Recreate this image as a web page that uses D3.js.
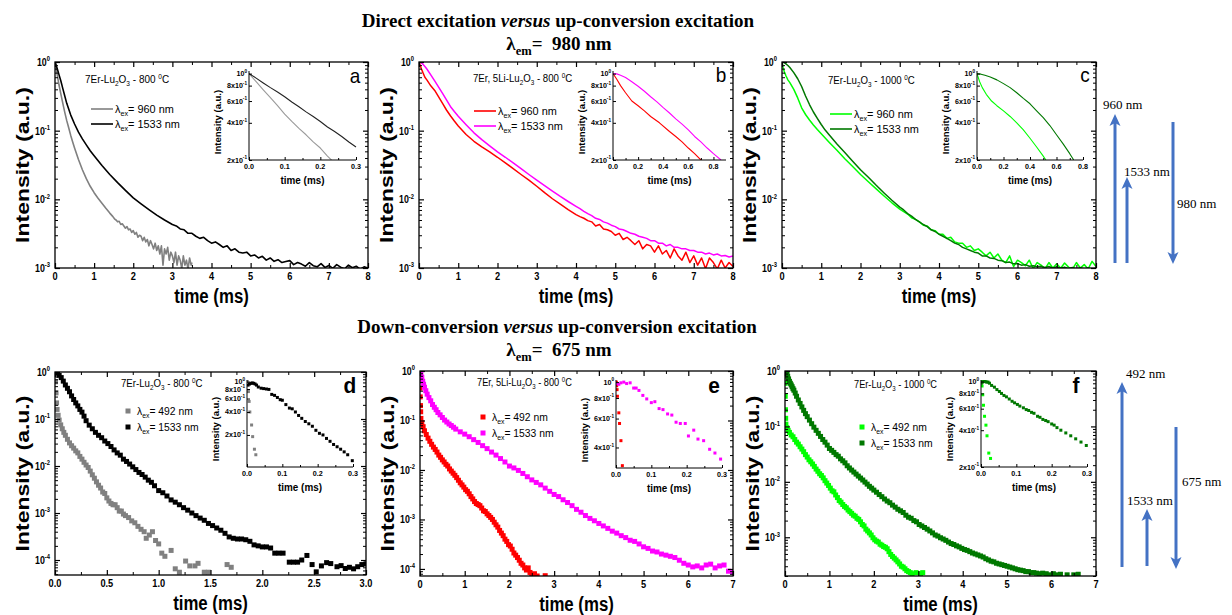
<!DOCTYPE html>
<html><head><meta charset="utf-8">
<script src="https://cdn.jsdelivr.net/npm/d3@7/dist/d3.min.js"></script>
<style>html,body{margin:0;padding:0;background:#fff}svg{display:block}</style>
</head><body>
<svg id="chart" width="1232" height="615"></svg>
<script>
// ================= TEXT =================
const titleTop = [["Direct excitation ", ""], ["versus", "i"], [" up-conversion excitation", ""]];
const titleBottom = [["Down-conversion ", ""], ["versus", "i"], [" up-conversion excitation", ""]];
const emTop = "980 nm";
const emBottom = "675 nm";
const sampleA = [["7Er-Lu", ""], ["2", "sub"], ["O", ""], ["3", "sub"], [" - 800 ", ""], ["0", "sup"], ["C", ""]];
const sampleB = [["7Er, 5Li-Lu", ""], ["2", "sub"], ["O", ""], ["3", "sub"], [" - 800 ", ""], ["0", "sup"], ["C", ""]];
const sampleC = [["7Er-Lu", ""], ["2", "sub"], ["O", ""], ["3", "sub"], [" - 1000 ", ""], ["0", "sup"], ["C", ""]];
const legendTop = ["960 nm", "1533 nm"];
const legendBottom = ["492 nm", "1533 nm"];
const panelLetters = ["a", "b", "c", "d", "e", "f"];
const arrowsTop = ["960 nm", "1533 nm", "980 nm"];
const arrowsBottom = ["492 nm", "1533 nm", "675 nm"];

// ================= TICKS =================
const xTicksTop = [0, 1, 2, 3, 4, 5, 6, 7, 8];
const xTicksD = [0, 0.5, 1.0, 1.5, 2.0, 2.5, 3.0];
const xTicksEF = [0, 1, 2, 3, 4, 5, 6, 7];
const yExpTop = [0, -1, -2, -3];
const yExpDE = [0, -1, -2, -3, -4];
const yExpF = [0, -1, -2, -3];
const inXTicks03 = [0, 0.1, 0.2, 0.3];
const inXTicks08 = [0, 0.2, 0.4, 0.6, 0.8];
const inYTicks = [1, 0.8, 0.6, 0.4, 0.2];
const inYTicksE = [1, 0.8, 0.6, 0.4];
const inYTickLabels = [["10", "0"], ["8x10", "-1"], ["6x10", "-1"], ["4x10", "-1"], ["2x10", "-1"]];

// ================= DATA (time ms, intensity a.u.) =================
// Panel a
const aGray = [[0,1],[0.03,0.8],[0.06,0.64],[0.1,0.47],[0.15,0.34],[0.2,0.25],[0.25,0.185],[0.3,0.14],[0.35,0.11],[0.4,0.086],[0.45,0.069],[0.5,0.056],[0.6,0.038],[0.7,0.027],[0.8,0.02],[0.9,0.0155],[1.0,0.0125],[1.1,0.0104],[1.2,0.0088],[1.3,0.0074],[1.4,0.0063],[1.48,0.0056],[1.52,0.0052],[1.56,0.005],[1.6,0.0047],[1.64,0.0048],[1.68,0.0043],[1.72,0.0044],[1.76,0.0041],[1.8,0.0038],[1.84,0.004],[1.88,0.0036],[1.92,0.0037],[1.96,0.0033],[2.0,0.0035],[2.04,0.0031],[2.08,0.0033],[2.12,0.0028],[2.16,0.003],[2.2,0.0029],[2.24,0.0025],[2.28,0.0028],[2.32,0.0024],[2.36,0.0026],[2.4,0.0021],[2.44,0.0025],[2.48,0.0022],[2.52,0.0019],[2.56,0.0023],[2.6,0.0018],[2.64,0.0021],[2.68,0.0016],[2.72,0.0021],[2.76,0.0011],[2.8,0.0019],[2.84,0.0016],[2.88,0.002],[2.92,0.0013],[2.96,0.0017],[3.0,0.0015],[3.04,0.0012],[3.08,0.0017],[3.12,0.0011],[3.16,0.0015],[3.2,0.0013],[3.24,0.00098],[3.28,0.0015],[3.32,0.0011],[3.36,0.0013],[3.4,0.00096],[3.44,0.0014],[3.48,0.0011],[3.5,0.0012]];
const aBlack = [[0,1],[0.03,0.9],[0.06,0.79],[0.1,0.66],[0.15,0.53],[0.2,0.41],[0.25,0.32],[0.3,0.25],[0.4,0.17],[0.5,0.125],[0.6,0.095],[0.7,0.076],[0.8,0.062],[0.9,0.051],[1.0,0.043],[1.2,0.031],[1.4,0.023],[1.6,0.0175],[1.8,0.0135],[2.0,0.0105],[2.2,0.0086],[2.4,0.0071],[2.6,0.0059],[2.8,0.005],[3.0,0.0043],[3.1,0.0041],[3.2,0.0037],[3.3,0.0036],[3.4,0.0032],[3.5,0.0032],[3.6,0.0029],[3.7,0.0027],[3.8,0.0028],[3.9,0.0025],[4.0,0.0023],[4.1,0.0024],[4.2,0.0022],[4.3,0.002],[4.4,0.0021],[4.5,0.0018],[4.6,0.0019],[4.7,0.0017],[4.8,0.00165],[4.9,0.0017],[5.0,0.0015],[5.1,0.00155],[5.2,0.0014],[5.3,0.00148],[5.4,0.0013],[5.5,0.0014],[5.6,0.00125],[5.7,0.00132],[5.8,0.0012],[5.9,0.00124],[6.0,0.00128],[6.1,0.00112],[6.2,0.0012],[6.3,0.00114],[6.4,0.00106],[6.5,0.0012],[6.6,0.00108],[6.7,0.00104],[6.8,0.00116],[6.9,0.00102],[7.0,0.00109],[7.1,0.00099],[7.2,0.00112],[7.3,0.00103],[7.4,0.00097],[7.5,0.0011],[7.6,0.00101],[7.7,0.00106],[7.8,0.00096],[7.9,0.00104],[8.0,0.001]];
const aInGray = [[0,1],[0.02,0.86],[0.04,0.74],[0.06,0.64],[0.08,0.55],[0.1,0.47],[0.12,0.41],[0.14,0.36],[0.16,0.32],[0.18,0.28],[0.2,0.25],[0.22,0.215],[0.235,0.195]];
const aInBlack = [[0,1],[0.02,0.92],[0.04,0.84],[0.06,0.77],[0.08,0.71],[0.1,0.65],[0.12,0.59],[0.14,0.54],[0.16,0.49],[0.18,0.45],[0.2,0.41],[0.22,0.37],[0.24,0.34],[0.26,0.31],[0.28,0.28],[0.3,0.255]];
// Panel b
const bRed = [[0,1],[0.03,0.9],[0.06,0.8],[0.1,0.7],[0.15,0.6],[0.2,0.55],[0.3,0.45],[0.4,0.385],[0.5,0.31],[0.6,0.25],[0.7,0.2],[0.8,0.165],[0.9,0.138],[1.0,0.117],[1.2,0.088],[1.4,0.07],[1.6,0.058],[1.8,0.049],[2.0,0.041],[2.2,0.034],[2.4,0.028],[2.6,0.023],[2.8,0.019],[3.0,0.0155],[3.2,0.0125],[3.4,0.0102],[3.6,0.0085],[3.8,0.0071],[4.0,0.006],[4.1,0.0056],[4.2,0.0053],[4.3,0.0049],[4.4,0.0047],[4.5,0.0041],[4.6,0.0043],[4.7,0.0037],[4.8,0.0036],[4.9,0.0034],[5.0,0.003],[5.1,0.0032],[5.2,0.0026],[5.3,0.0028],[5.4,0.0025],[5.5,0.0022],[5.6,0.0025],[5.7,0.0019],[5.8,0.0022],[5.9,0.0021],[6.0,0.0017],[6.1,0.0021],[6.2,0.0016],[6.3,0.0018],[6.4,0.0014],[6.5,0.0019],[6.6,0.0015],[6.7,0.0013],[6.8,0.0017],[6.9,0.0012],[7.0,0.0015],[7.1,0.0011],[7.2,0.0014],[7.3,0.00098],[7.4,0.0014],[7.5,0.0012],[7.6,0.00097],[7.7,0.0013],[7.8,0.001],[7.9,0.0012],[8.0,0.00105]];
const bMag = [[0,1],[0.05,0.98],[0.1,0.93],[0.15,0.86],[0.2,0.79],[0.3,0.65],[0.4,0.53],[0.5,0.43],[0.6,0.35],[0.7,0.28],[0.8,0.225],[0.9,0.19],[1.0,0.162],[1.2,0.122],[1.4,0.093],[1.6,0.074],[1.8,0.06],[2.0,0.049],[2.2,0.041],[2.4,0.034],[2.6,0.028],[2.8,0.023],[3.0,0.019],[3.2,0.0158],[3.4,0.0132],[3.6,0.011],[3.8,0.0093],[4.0,0.0079],[4.1,0.0073],[4.2,0.0067],[4.3,0.0062],[4.4,0.0058],[4.5,0.0053],[4.6,0.0051],[4.7,0.0047],[4.8,0.0045],[4.9,0.0042],[5.0,0.004],[5.1,0.0037],[5.2,0.0036],[5.3,0.0034],[5.4,0.0032],[5.5,0.0031],[5.6,0.0029],[5.7,0.0028],[5.8,0.0027],[5.9,0.0025],[6.0,0.0025],[6.1,0.0023],[6.2,0.0023],[6.3,0.0021],[6.4,0.0022],[6.5,0.002],[6.6,0.002],[6.7,0.0019],[6.8,0.0019],[6.9,0.0018],[7.0,0.0018],[7.1,0.0017],[7.2,0.0017],[7.3,0.0016],[7.4,0.00165],[7.5,0.00155],[7.6,0.0016],[7.7,0.0015],[7.8,0.00152],[7.9,0.00145],[8.0,0.0015]];
const bInRed = [[0,1],[0.03,0.9],[0.06,0.8],[0.1,0.7],[0.15,0.6],[0.2,0.55],[0.25,0.5],[0.3,0.45],[0.37,0.4],[0.45,0.34],[0.5,0.31],[0.55,0.28],[0.6,0.25],[0.65,0.225],[0.7,0.2]];
const bInMag = [[0,1],[0.03,0.995],[0.06,0.97],[0.1,0.93],[0.15,0.86],[0.2,0.79],[0.25,0.72],[0.3,0.65],[0.35,0.59],[0.4,0.53],[0.45,0.48],[0.5,0.43],[0.55,0.39],[0.6,0.35],[0.65,0.31],[0.7,0.28],[0.75,0.25],[0.8,0.225],[0.86,0.2]];
// Panel c
const cLight = [[0,1],[0.03,0.82],[0.06,0.72],[0.1,0.63],[0.15,0.55],[0.2,0.5],[0.3,0.4],[0.4,0.3],[0.5,0.215],[0.6,0.172],[0.7,0.143],[0.8,0.121],[0.9,0.104],[1.0,0.09],[1.2,0.068],[1.4,0.052],[1.6,0.039],[1.8,0.03],[2.0,0.023],[2.2,0.018],[2.4,0.0142],[2.6,0.0112],[2.8,0.0089],[3.0,0.0072],[3.1,0.0066],[3.2,0.0061],[3.3,0.0054],[3.4,0.0051],[3.5,0.0047],[3.6,0.0042],[3.7,0.0041],[3.8,0.0036],[3.9,0.0035],[4.0,0.0031],[4.1,0.0031],[4.2,0.0027],[4.3,0.0028],[4.4,0.0024],[4.5,0.0023],[4.6,0.0023],[4.7,0.002],[4.8,0.0021],[4.9,0.0018],[5.0,0.0019],[5.1,0.0017],[5.2,0.0015],[5.3,0.0017],[5.4,0.0014],[5.5,0.0016],[5.6,0.0013],[5.7,0.0012],[5.8,0.0015],[5.9,0.00105],[6.0,0.0013],[6.1,0.0012],[6.2,0.00108],[6.3,0.0013],[6.4,0.00098],[6.5,0.0012],[6.6,0.0011],[6.7,0.00097],[6.8,0.0012],[6.9,0.001],[7.0,0.00115],[7.1,0.00099],[7.2,0.00118],[7.3,0.00103],[7.4,0.00096],[7.5,0.0012],[7.6,0.001],[7.7,0.00112],[7.8,0.00097],[7.9,0.00125],[8.0,0.00105]];
const cDark = [[0,1],[0.05,0.99],[0.1,0.94],[0.15,0.89],[0.2,0.83],[0.3,0.7],[0.4,0.57],[0.5,0.44],[0.6,0.32],[0.7,0.24],[0.8,0.187],[0.9,0.151],[1.0,0.123],[1.1,0.102],[1.2,0.087],[1.4,0.064],[1.6,0.048],[1.8,0.036],[2.0,0.027],[2.2,0.021],[2.4,0.016],[2.6,0.0124],[2.8,0.0097],[3.0,0.0077],[3.1,0.007],[3.2,0.0062],[3.3,0.0057],[3.4,0.0051],[3.5,0.0047],[3.6,0.0043],[3.7,0.004],[3.8,0.0036],[3.9,0.0034],[4.0,0.0031],[4.1,0.0029],[4.2,0.0027],[4.3,0.0025],[4.4,0.0023],[4.5,0.0022],[4.6,0.002],[4.7,0.0019],[4.8,0.0018],[4.9,0.0017],[5.0,0.00165],[5.1,0.0015],[5.2,0.0015],[5.3,0.0014],[5.4,0.00138],[5.5,0.0013],[5.6,0.00128],[5.7,0.0012],[5.8,0.00122],[5.9,0.00115],[6.0,0.00116],[6.1,0.0011],[6.2,0.00112],[6.3,0.00106],[6.4,0.00108],[6.5,0.00104],[6.6,0.00106],[6.7,0.00102],[6.8,0.00105],[6.9,0.001],[7.0,0.00104],[7.1,0.00099],[7.2,0.00103],[7.3,0.00098],[7.4,0.00102],[7.5,0.00097],[7.6,0.00101],[7.7,0.00097],[7.8,0.001],[7.9,0.00096],[8.0,0.00099]];
const cInLight = [[0,1],[0.02,0.86],[0.04,0.77],[0.07,0.68],[0.11,0.6],[0.15,0.55],[0.2,0.5],[0.25,0.45],[0.3,0.4],[0.35,0.35],[0.4,0.3],[0.45,0.255],[0.5,0.215],[0.52,0.2]];
const cInDark = [[0,1],[0.03,0.99],[0.06,0.97],[0.1,0.94],[0.15,0.89],[0.2,0.83],[0.25,0.77],[0.3,0.7],[0.35,0.63],[0.4,0.57],[0.45,0.5],[0.5,0.44],[0.55,0.38],[0.6,0.32],[0.65,0.27],[0.7,0.225],[0.73,0.2]];
// Panel d
const dGray = [[0,1],[0.005,0.62],[0.01,0.36],[0.015,0.22],[0.02,0.16],[0.03,0.12],[0.04,0.095],[0.055,0.075],[0.07,0.062],[0.085,0.052],[0.1,0.045],[0.12,0.037],[0.14,0.031],[0.16,0.027],[0.18,0.024],[0.2,0.021],[0.22,0.019],[0.24,0.016],[0.26,0.014],[0.28,0.012],[0.3,0.0105],[0.32,0.0093],[0.34,0.0078],[0.36,0.0065],[0.38,0.0055],[0.4,0.0046],[0.42,0.0039],[0.44,0.0034],[0.46,0.0028],[0.48,0.0026],[0.5,0.0021],[0.52,0.0018],[0.54,0.0016],[0.56,0.0015],[0.58,0.0015],[0.6,0.0013],[0.62,0.0011],[0.64,0.0011],[0.66,0.00095],[0.68,0.00088],[0.71,0.0008],[0.74,0.00068],[0.77,0.00062],[0.8,0.00052],[0.83,0.00045],[0.86,0.0004],[0.88,0.00029],[0.91,0.00034],[0.94,0.0004],[0.97,0.00026],[1.0,0.00022],[1.03,0.00014],[1.06,0.00012],[1.12,0.00016],[1.16,0.000065],[1.2,0.000055],[1.26,0.000095],[1.3,0.000075],[1.35,0.000075],[1.38,0.000085],[1.44,0.000055],[1.48,0.000055],[1.66,0.00008],[1.7,0.00007]];
const dBlack = [[0,1],[0.02,0.95],[0.04,0.85],[0.06,0.76],[0.08,0.64],[0.1,0.53],[0.12,0.45],[0.14,0.38],[0.16,0.31],[0.18,0.26],[0.2,0.22],[0.22,0.19],[0.24,0.16],[0.26,0.14],[0.28,0.115],[0.3,0.092],[0.33,0.074],[0.36,0.062],[0.39,0.052],[0.42,0.045],[0.45,0.04],[0.48,0.034],[0.51,0.03],[0.54,0.026],[0.57,0.022],[0.6,0.019],[0.63,0.017],[0.66,0.014],[0.69,0.0125],[0.72,0.011],[0.75,0.0096],[0.78,0.0084],[0.81,0.0073],[0.84,0.0066],[0.87,0.0058],[0.9,0.005],[0.93,0.0045],[0.96,0.0038],[1.0,0.003],[1.04,0.0027],[1.08,0.0023],[1.12,0.0019],[1.16,0.0017],[1.2,0.0015],[1.24,0.0013],[1.28,0.00115],[1.32,0.001],[1.36,0.00088],[1.4,0.00078],[1.44,0.0007],[1.48,0.0006],[1.52,0.00054],[1.56,0.00048],[1.6,0.00043],[1.64,0.00037],[1.68,0.00031],[1.72,0.00029],[1.76,0.00028],[1.8,0.00028],[1.84,0.00027],[1.88,0.00025],[1.92,0.00021],[1.96,0.0002],[2.0,0.00019],[2.04,0.00019],[2.08,0.00018],[2.12,0.00014],[2.16,0.00014],[2.2,0.00014],[2.26,0.00009],[2.3,0.00009],[2.34,0.00009],[2.38,0.0001],[2.43,0.000125],[2.48,0.00008],[2.52,0.000056],[2.57,0.000075],[2.62,0.000088],[2.66,0.000084],[2.72,0.000072],[2.76,0.000076],[2.8,0.000066],[2.84,0.00007],[2.88,0.000065],[2.92,0.000072],[2.96,0.00008],[3.0,0.000083]];
const dInGray = [[0.001,1.0],[0.004,0.74],[0.006,0.55],[0.008,0.4],[0.013,0.27],[0.016,0.19],[0.021,0.13],[0.025,0.11]];
const dInBlack = [[0.003,0.9],[0.007,0.93],[0.011,0.95],[0.015,0.96],[0.019,0.95],[0.023,0.93],[0.027,0.9],[0.032,0.85],[0.04,0.82],[0.047,0.81],[0.055,0.8],[0.062,0.79],[0.07,0.68],[0.078,0.66],[0.086,0.62],[0.094,0.58],[0.1,0.57],[0.11,0.5],[0.12,0.45],[0.128,0.44],[0.137,0.4],[0.146,0.36],[0.155,0.33],[0.165,0.3],[0.175,0.28],[0.185,0.26],[0.195,0.23],[0.205,0.21],[0.215,0.2],[0.225,0.18],[0.235,0.165],[0.245,0.15],[0.255,0.14],[0.265,0.13],[0.275,0.12],[0.285,0.11],[0.298,0.092]];
// Panel e
const eRed = [[0,1],[0,0.7],[0,0.45],[0.005,0.3],[0.01,0.2],[0.015,0.15],[0.02,0.11],[0.04,0.09],[0.07,0.075],[0.1,0.062],[0.14,0.052],[0.18,0.044],[0.22,0.038],[0.26,0.033],[0.3,0.029],[0.34,0.026],[0.38,0.023],[0.42,0.02],[0.46,0.018],[0.5,0.016],[0.54,0.0145],[0.58,0.013],[0.62,0.012],[0.66,0.0105],[0.7,0.0095],[0.74,0.0086],[0.78,0.0078],[0.82,0.007],[0.86,0.0062],[0.9,0.0055],[0.94,0.005],[0.98,0.0045],[1.02,0.004],[1.06,0.0037],[1.1,0.0033],[1.14,0.0029],[1.18,0.0026],[1.22,0.0023],[1.26,0.0021],[1.3,0.002],[1.34,0.0019],[1.38,0.0017],[1.42,0.0015],[1.46,0.00145],[1.5,0.0013],[1.54,0.0012],[1.58,0.0011],[1.62,0.001],[1.66,0.00088],[1.7,0.00078],[1.74,0.0007],[1.78,0.0006],[1.82,0.00053],[1.86,0.00047],[1.9,0.0004],[1.94,0.00036],[1.98,0.00031],[2.02,0.00029],[2.06,0.00025],[2.1,0.00021],[2.14,0.00019],[2.18,0.00017],[2.22,0.00015],[2.26,0.00013],[2.3,0.00012],[2.34,0.000105],[2.38,0.000095],[2.42,0.000105],[2.46,0.000085],[2.5,0.000075],[2.56,0.00008],[2.62,0.000072],[2.8,0.000073]];
const eMag = [[0,1],[0.02,0.9],[0.04,0.75],[0.06,0.62],[0.08,0.54],[0.1,0.47],[0.13,0.4],[0.16,0.34],[0.2,0.29],[0.24,0.25],[0.28,0.21],[0.32,0.185],[0.36,0.165],[0.4,0.145],[0.45,0.13],[0.5,0.115],[0.55,0.102],[0.6,0.093],[0.65,0.085],[0.7,0.079],[0.75,0.073],[0.8,0.067],[0.9,0.059],[1.0,0.053],[1.1,0.047],[1.2,0.041],[1.3,0.036],[1.4,0.031],[1.5,0.027],[1.6,0.023],[1.7,0.02],[1.8,0.017],[1.9,0.0145],[2.0,0.012],[2.1,0.011],[2.2,0.0098],[2.3,0.0085],[2.4,0.0073],[2.5,0.0063],[2.6,0.0056],[2.7,0.005],[2.8,0.0043],[2.9,0.0037],[3.0,0.0032],[3.1,0.0029],[3.2,0.0025],[3.3,0.0022],[3.4,0.0019],[3.5,0.0016],[3.6,0.0014],[3.7,0.0012],[3.8,0.00105],[3.9,0.00094],[4.0,0.00083],[4.1,0.00074],[4.2,0.00066],[4.3,0.00058],[4.4,0.00053],[4.5,0.00047],[4.6,0.00043],[4.7,0.00038],[4.8,0.00036],[4.9,0.00032],[5.0,0.00028],[5.1,0.00026],[5.2,0.00023],[5.3,0.00022],[5.4,0.0002],[5.5,0.00019],[5.6,0.00018],[5.7,0.00017],[5.8,0.00015],[5.9,0.00013],[6.0,0.00012],[6.1,0.00011],[6.2,0.000115],[6.3,0.000105],[6.4,0.00012],[6.5,0.000125],[6.6,0.000105],[6.7,0.000115],[6.8,0.00012],[6.9,0.00009],[7.0,0.000085]];
const eInRed = [[0.001,1.0],[0.002,0.95],[0.003,0.9],[0.004,0.82],[0.008,0.65],[0.01,0.56],[0.014,0.44],[0.018,0.31]];
const eInMag = [[0.003,0.98],[0.008,0.97],[0.014,0.99],[0.022,1.0],[0.03,0.98],[0.04,0.99],[0.05,0.92],[0.057,0.92],[0.065,0.89],[0.076,0.83],[0.087,0.79],[0.1,0.75],[0.11,0.76],[0.122,0.69],[0.133,0.68],[0.146,0.64],[0.158,0.63],[0.17,0.57],[0.182,0.56],[0.196,0.56],[0.205,0.47],[0.22,0.51],[0.232,0.45],[0.248,0.44],[0.265,0.39],[0.28,0.37],[0.296,0.34]];
// Panel f
const fLight = [[0,1],[0,0.6],[0.005,0.35],[0.01,0.2],[0.015,0.14],[0.02,0.11],[0.04,0.095],[0.07,0.085],[0.1,0.078],[0.14,0.07],[0.18,0.065],[0.22,0.058],[0.26,0.052],[0.3,0.048],[0.34,0.043],[0.38,0.039],[0.42,0.035],[0.46,0.031],[0.5,0.028],[0.54,0.025],[0.58,0.023],[0.62,0.021],[0.66,0.019],[0.7,0.017],[0.74,0.0155],[0.78,0.014],[0.82,0.013],[0.86,0.0118],[0.9,0.0105],[0.94,0.0095],[0.98,0.0086],[1.02,0.0077],[1.06,0.0069],[1.1,0.0066],[1.14,0.0058],[1.18,0.0052],[1.22,0.0046],[1.26,0.0043],[1.3,0.0039],[1.34,0.0036],[1.38,0.0034],[1.42,0.0031],[1.46,0.0029],[1.5,0.0027],[1.54,0.0025],[1.58,0.0024],[1.62,0.0022],[1.66,0.0021],[1.7,0.0019],[1.74,0.0017],[1.78,0.0016],[1.82,0.0014],[1.86,0.0013],[1.9,0.0012],[1.94,0.0011],[1.98,0.00098],[2.02,0.0009],[2.06,0.00085],[2.1,0.00082],[2.14,0.00075],[2.18,0.00072],[2.22,0.00068],[2.26,0.00066],[2.3,0.00062],[2.34,0.00055],[2.38,0.00049],[2.42,0.00045],[2.46,0.00042],[2.5,0.00039],[2.54,0.00036],[2.58,0.00033],[2.62,0.0003],[2.66,0.00029],[2.7,0.00027],[2.74,0.00025],[2.78,0.00024],[2.82,0.00023],[2.86,0.00022],[2.95,0.00023],[3.05,0.00022],[3.1,0.00023]];
const fDark = [[0,0.97],[0.01,1.0],[0.02,0.99],[0.03,0.93],[0.045,0.86],[0.06,0.8],[0.08,0.72],[0.1,0.65],[0.12,0.6],[0.14,0.56],[0.16,0.52],[0.18,0.48],[0.2,0.45],[0.23,0.4],[0.26,0.35],[0.3,0.3],[0.34,0.26],[0.38,0.225],[0.42,0.195],[0.46,0.17],[0.5,0.15],[0.55,0.13],[0.6,0.112],[0.65,0.097],[0.7,0.085],[0.75,0.075],[0.8,0.066],[0.85,0.058],[0.9,0.052],[0.95,0.046],[1.0,0.04],[1.05,0.037],[1.1,0.034],[1.15,0.031],[1.2,0.029],[1.25,0.026],[1.3,0.024],[1.35,0.022],[1.4,0.0195],[1.45,0.0178],[1.5,0.0163],[1.55,0.015],[1.6,0.0138],[1.65,0.0127],[1.7,0.0117],[1.75,0.0108],[1.8,0.0099],[1.85,0.0091],[1.9,0.0083],[1.95,0.0077],[2.0,0.0071],[2.06,0.0065],[2.12,0.0059],[2.18,0.0054],[2.24,0.0049],[2.3,0.0045],[2.36,0.0042],[2.42,0.0038],[2.48,0.0035],[2.54,0.0032],[2.6,0.003],[2.66,0.0028],[2.72,0.0025],[2.78,0.0023],[2.84,0.0022],[2.9,0.002],[2.96,0.0019],[3.02,0.0017],[3.08,0.0016],[3.14,0.0015],[3.2,0.0014],[3.26,0.0013],[3.32,0.0012],[3.38,0.0011],[3.44,0.00105],[3.5,0.00098],[3.56,0.00093],[3.62,0.00088],[3.68,0.00082],[3.74,0.00077],[3.8,0.00074],[3.86,0.0007],[3.92,0.00067],[3.98,0.00063],[4.04,0.0006],[4.1,0.00058],[4.16,0.00055],[4.22,0.00052],[4.28,0.0005],[4.34,0.00048],[4.4,0.00046],[4.46,0.00044],[4.52,0.00041],[4.58,0.00039],[4.64,0.00037],[4.7,0.00036],[4.76,0.00034],[4.82,0.00033],[4.88,0.00032],[4.94,0.00031],[5.0,0.0003],[5.06,0.00029],[5.12,0.00028],[5.18,0.00027],[5.24,0.00026],[5.3,0.000255],[5.36,0.00025],[5.42,0.00024],[5.48,0.00024],[5.54,0.00023],[5.6,0.00023],[5.66,0.000225],[5.72,0.00022],[5.8,0.000225],[5.88,0.00022],[5.96,0.00021],[6.04,0.00022],[6.12,0.00021],[6.2,0.000215],[6.35,0.00021],[6.5,0.00021],[6.6,0.000215]];
const fInLight = [[0.001,1.0],[0.003,0.92],[0.005,0.78],[0.007,0.64],[0.01,0.52],[0.014,0.44],[0.017,0.36],[0.022,0.26],[0.027,0.235]];
const fInDark = [[0.001,0.97],[0.004,0.99],[0.008,1.0],[0.012,1.0],[0.016,0.99],[0.02,0.99],[0.024,0.97],[0.03,0.93],[0.038,0.9],[0.045,0.86],[0.052,0.83],[0.058,0.8],[0.065,0.77],[0.072,0.75],[0.08,0.72],[0.088,0.69],[0.095,0.67],[0.103,0.65],[0.11,0.63],[0.12,0.61],[0.128,0.59],[0.135,0.58],[0.143,0.56],[0.15,0.55],[0.16,0.52],[0.167,0.51],[0.175,0.49],[0.183,0.48],[0.19,0.47],[0.2,0.45],[0.207,0.44],[0.215,0.42],[0.226,0.4],[0.24,0.38],[0.254,0.36],[0.268,0.34],[0.283,0.32],[0.298,0.3]];

// ================= STYLE =================
const SANS = '"Liberation Sans", Arial, sans-serif';
const SERIF = '"Liberation Serif", "Times New Roman", serif';
const BLUE = '#4472C4';
const C_GRAY = '#808080', C_BLACK = '#000000', C_RED = '#FF0000', C_MAG = '#FF00FF', C_LIGHT = '#00FF00', C_DARK = '#007800';

const svg = d3.select('#chart');
svg.append('rect').attr('width', 1232).attr('height', 615).attr('fill', '#fff');
const defs = svg.append('defs');

function txt(parent, x, y, parts, o) {
  const size = o.size;
  let tr = `translate(${x},${y}) scale(${o.sx == null ? 1 : o.sx},1)`;
  if (o.rot) tr += ` rotate(${o.rot})`;
  const t = parent.append('text').attr('transform', tr)
    .attr('font-family', o.family || SANS).attr('font-size', size)
    .attr('font-weight', o.weight || 'normal').attr('text-anchor', o.anchor || 'start')
    .attr('fill', o.fill || '#000').style('white-space', 'pre');
  let cur = 0;
  for (const [s, k] of parts) {
    const sp = t.append('tspan').text(s);
    let target = 0;
    if (k === 'sub') { target = size * 0.28; sp.attr('font-size', size * 0.66); }
    else if (k === 'sup') { target = -size * 0.42; sp.attr('font-size', size * 0.66); }
    else if (k === 'i') { sp.attr('font-style', 'italic'); }
    if (target - cur !== 0) sp.attr('dy', target - cur);
    cur = target;
  }
  return t;
}

function minorLog(dom) {
  const out = [];
  const e0 = Math.floor(Math.log10(dom[0]));
  for (let e = e0; e < Math.round(Math.log10(dom[1])) + 1; e++) {
    for (let m = 2; m <= 9; m++) {
      const v = m * Math.pow(10, e);
      if (v >= dom[0] && v <= dom[1]) out.push(v);
    }
  }
  return out;
}

function ticks(g, gen, tr, vals, size, sw) {
  g.append('g').attr('transform', tr)
    .call(gen.tickValues(vals).tickSizeInner(size).tickSizeOuter(0).tickFormat(''))
    .call(s => s.select('.domain').remove())
    .call(s => s.selectAll('line').attr('stroke', '#000').attr('stroke-width', sw || 1));
}

let clipN = 0;
function drawSeries(g, x, y, box, series) {
  const id = 'clip' + (clipN++);
  defs.append('clipPath').attr('id', id).append('rect')
    .attr('x', box.left).attr('y', box.top)
    .attr('width', box.right - box.left).attr('height', box.bottom - box.top);
  const cg = g.append('g').attr('clip-path', `url(#${id})`);
  for (const s of series) {
    if (s.type === 'line') {
      cg.append('path').datum(s.data).attr('fill', 'none').attr('stroke', s.color)
        .attr('stroke-width', s.w).attr('stroke-linejoin', 'round')
        .attr('d', d3.line().x(d => x(d[0])).y(d => y(d[1])));
    } else {
      cg.append('g').selectAll('rect').data(s.data).join('rect')
        .attr('x', d => x(d[0]) - s.size / 2).attr('y', d => y(d[1]) - s.size / 2)
        .attr('width', s.size).attr('height', s.size).attr('fill', s.color);
    }
  }
}

function mainPanel(box, xDom, yDom, xTicks, xMinor, xFmt, yExps, series) {
  const g = svg.append('g');
  const x = d3.scaleLinear().domain(xDom).range([box.left, box.right]);
  const y = d3.scaleLog().domain(yDom).range([box.bottom, box.top]);
  drawSeries(g, x, y, box, series);
  const yMaj = yExps.map(e => Math.pow(10, e));
  const yMin = minorLog(yDom);
  ticks(g, d3.axisBottom(x), `translate(0,${box.bottom})`, xTicks, -5, 1.2);
  ticks(g, d3.axisBottom(x), `translate(0,${box.bottom})`, xMinor, -3);
  ticks(g, d3.axisTop(x), `translate(0,${box.top})`, xTicks, -5, 1.2);
  ticks(g, d3.axisTop(x), `translate(0,${box.top})`, xMinor, -3);
  ticks(g, d3.axisLeft(y), `translate(${box.left},0)`, yMaj, -5, 1.2);
  ticks(g, d3.axisLeft(y), `translate(${box.left},0)`, yMin, -3);
  ticks(g, d3.axisRight(y), `translate(${box.right},0)`, yMaj, -5, 1.2);
  ticks(g, d3.axisRight(y), `translate(${box.right},0)`, yMin, -3);
  g.append('rect').attr('x', box.left).attr('y', box.top)
    .attr('width', box.right - box.left).attr('height', box.bottom - box.top)
    .attr('fill', 'none').attr('stroke', '#000').attr('stroke-width', 1.3);
  for (const v of xTicks) {
    txt(g, x(v), box.bottom + 12, [[xFmt(v), '']], { size: 10.5, weight: 'bold', anchor: 'middle', sx: 0.88 });
  }
  for (const e of yExps) {
    txt(g, box.left - 5, y(Math.pow(10, e)) + 4, [['10', ''], [String(e), 'sup']], { size: 11, weight: 'bold', anchor: 'end', sx: 0.8 });
  }
  txt(g, (box.left + box.right) / 2, box.bottom + 35, [['time (ms)', '']], { size: 21, weight: 'bold', anchor: 'middle', sx: 0.8 });
  txt(g, box.left - 26, (box.top + box.bottom) / 2, [['Intensity (a.u.)', '']], { size: 23, weight: 'bold', anchor: 'middle', sx: 0.78, rot: -90 });
  return { g, x, y };
}

function inset(box, xDom, yDom, xTicks, xMinor, xFmt, yTicks, series) {
  const g = svg.append('g');
  const x = d3.scaleLinear().domain(xDom).range([box.left, box.right]);
  const y = d3.scaleLog().domain(yDom).range([box.bottom, box.top]);
  drawSeries(g, x, y, { left: box.left, right: box.right + 3, top: box.top - 3, bottom: box.bottom }, series);
  ticks(g, d3.axisBottom(x), `translate(0,${box.bottom})`, xTicks, -3);
  ticks(g, d3.axisBottom(x), `translate(0,${box.bottom})`, xMinor, -2);
  ticks(g, d3.axisLeft(y), `translate(${box.left},0)`, yTicks, -3);
  g.append('path').attr('d', `M${box.left},${box.top} V${box.bottom} H${box.right}`)
    .attr('fill', 'none').attr('stroke', '#000').attr('stroke-width', 1);
  for (const v of xTicks) {
    txt(g, x(v), box.bottom + 9, [[xFmt(v), '']], { size: 8, weight: 'bold', anchor: 'middle', sx: 0.9 });
  }
  yTicks.forEach((v) => {
    const lab = inYTickLabels[inYTicks.indexOf(v)];
    txt(g, box.left - 2, y(v) + 2.5, [[lab[0], ''], [lab[1], 'sup']], { size: 7.5, weight: 'bold', anchor: 'end', sx: 0.95 });
  });
  txt(g, (box.left + box.right) / 2, box.bottom + 24, [['time (ms)', '']], { size: 11, weight: 'bold', anchor: 'middle', sx: 0.9 });
  txt(g, box.left - 28, box.bottom - 38, [['Intensity (a.u.)', '']], { size: 9.5, weight: 'bold', anchor: 'middle', sx: 0.95, rot: -90 });
}

function lineLegend(x, y, colors, labels) {
  colors.forEach((c, i) => {
    const yy = y + i * 15;
    svg.append('line').attr('x1', x).attr('x2', x + 22).attr('y1', yy).attr('y2', yy)
      .attr('stroke', c).attr('stroke-width', 1.6);
    txt(svg, x + 24, yy + 4, [['λ', ''], ['ex', 'sub'], ['= ' + labels[i], '']], { size: 11.5, sx: 0.95 });
  });
}
function squareLegend(x, y, colors, labels) {
  colors.forEach((c, i) => {
    const yy = y + i * 16;
    svg.append('rect').attr('x', x - 2.5).attr('y', yy - 2.5).attr('width', 5).attr('height', 5).attr('fill', c);
    txt(svg, x + 9, yy + 4, [['λ', ''], ['ex', 'sub'], ['= ' + labels[i], '']], { size: 11.5, sx: 0.9 });
  });
}

// ================= PANELS =================
const fmt0 = d3.format('d'), fmt1 = d3.format('.1f');
const minorHalf8 = d3.range(0.5, 8, 1), minorHalf7 = d3.range(0.5, 7, 1), minorD = d3.range(0.25, 3, 0.5);
const TOPDOM = [1e-3, 1];

const PA = { left: 55, right: 368, top: 62, bottom: 268 };
const PB = { left: 419, right: 733, top: 62, bottom: 268 };
const PC = { left: 782, right: 1096, top: 62, bottom: 268 };
const PD = { left: 55, right: 366, top: 372, bottom: 575 };
const PE = { left: 420, right: 733, top: 371, bottom: 576 };
const PF = { left: 785, right: 1096, top: 371, bottom: 576 };

mainPanel(PA, [0, 8], TOPDOM, xTicksTop, minorHalf8, fmt0, yExpTop, [
  { type: 'line', data: aGray, color: C_GRAY, w: 1.6 },
  { type: 'line', data: aBlack, color: C_BLACK, w: 1.6 }]);
mainPanel(PB, [0, 8], TOPDOM, xTicksTop, minorHalf8, fmt0, yExpTop, [
  { type: 'line', data: bRed, color: C_RED, w: 1.5 },
  { type: 'line', data: bMag, color: C_MAG, w: 1.5 }]);
mainPanel(PC, [0, 8], TOPDOM, xTicksTop, minorHalf8, fmt0, yExpTop, [
  { type: 'line', data: cLight, color: C_LIGHT, w: 1.5 },
  { type: 'line', data: cDark, color: C_DARK, w: 1.5 }]);
mainPanel(PD, [0, 3], [4.8e-5, 1], xTicksD, minorD, fmt1, yExpDE, [
  { type: 'sq', data: dGray, color: C_GRAY, size: 5 },
  { type: 'sq', data: dBlack, color: C_BLACK, size: 5 }]);
mainPanel(PE, [0, 7], [7.2e-5, 1], xTicksEF, minorHalf7, fmt0, yExpDE, [
  { type: 'sq', data: eRed, color: C_RED, size: 5 },
  { type: 'sq', data: eMag, color: C_MAG, size: 5 }]);
mainPanel(PF, [0, 7], [2.0e-4, 1], xTicksEF, minorHalf7, fmt0, yExpF, [
  { type: 'sq', data: fLight, color: C_LIGHT, size: 5 },
  { type: 'sq', data: fDark, color: C_DARK, size: 5 }]);

// insets
inset({ left: 249, right: 356, top: 71, bottom: 160 }, [0, 0.3], [0.2, 1.05], inXTicks03, [0.05, 0.15, 0.25], fmt1, inYTicks, [
  { type: 'line', data: aInGray, color: '#9a9a9a', w: 1.1 },
  { type: 'line', data: aInBlack, color: '#222', w: 1.1 }]);
inset({ left: 613, right: 726, top: 71, bottom: 160 }, [0, 0.9], [0.2, 1.05], inXTicks08, [0.1, 0.3, 0.5, 0.7], fmt1, inYTicks, [
  { type: 'line', data: bInRed, color: C_RED, w: 1.1 },
  { type: 'line', data: bInMag, color: C_MAG, w: 1.1 }]);
inset({ left: 977, right: 1083, top: 71, bottom: 160 }, [0, 0.8], [0.2, 1.05], inXTicks08, [0.1, 0.3, 0.5, 0.7], fmt1, inYTicks, [
  { type: 'line', data: cInLight, color: C_LIGHT, w: 1.1 },
  { type: 'line', data: cInDark, color: C_DARK, w: 1.1 }]);
inset({ left: 247, right: 353, top: 380, bottom: 467 }, [0, 0.3], [0.076, 1.05], inXTicks03, [0.05, 0.15, 0.25], fmt1, inYTicks, [
  { type: 'sq', data: dInGray, color: C_GRAY, size: 3 },
  { type: 'sq', data: dInBlack, color: C_BLACK, size: 3 }]);
inset({ left: 616, right: 722, top: 380, bottom: 468 }, [0, 0.3], [0.3, 1.03], inXTicks03, [0.05, 0.15, 0.25], fmt1, inYTicksE, [
  { type: 'sq', data: eInRed, color: C_RED, size: 3 },
  { type: 'sq', data: eInMag, color: C_MAG, size: 3 }]);
inset({ left: 981, right: 1087, top: 380, bottom: 467 }, [0, 0.3], [0.2, 1.03], inXTicks03, [0.05, 0.15, 0.25], fmt1, inYTicks, [
  { type: 'sq', data: fInLight, color: C_LIGHT, size: 3 },
  { type: 'sq', data: fInDark, color: C_DARK, size: 3 }]);

// sample labels
txt(svg, 85, 83, sampleA, { size: 10.5, sx: 0.95 });
txt(svg, 473, 82, sampleB, { size: 10.5, sx: 0.92 });
txt(svg, 828, 84, sampleC, { size: 10.5, sx: 0.92 });
txt(svg, 121, 387, sampleA, { size: 10.5, sx: 0.92 });
txt(svg, 477, 386, sampleB, { size: 10.5, sx: 0.88 });
txt(svg, 854, 388, sampleC, { size: 10.5, sx: 0.88 });

// legends
lineLegend(91, 109, [C_GRAY, C_BLACK], legendTop);
lineLegend(474, 111, [C_RED, C_MAG], legendTop);
lineLegend(830, 114, [C_LIGHT, C_DARK], legendTop);
squareLegend(128, 411, [C_GRAY, C_BLACK], legendBottom);
squareLegend(483, 417, [C_RED, C_MAG], legendBottom);
squareLegend(862, 427, [C_LIGHT, C_DARK], legendBottom);

// panel letters
const letterPos = [[355, 83, 'normal'], [721, 82, 'normal'], [1085, 82, 'normal'], [350, 393, 'bold'], [714, 393, 'bold'], [1076, 393, 'bold']];
panelLetters.forEach((l, i) => {
  const p = letterPos[i];
  txt(svg, p[0], p[1], [[l, '']], { size: p[2] === 'bold' ? 22 : 20, weight: p[2], anchor: 'middle', sx: 0.95 });
});

// titles
txt(svg, 558, 27, titleTop, { size: 19, weight: 'bold', family: SERIF, anchor: 'middle' });
txt(svg, 559, 50, [['λ', ''], ['em', 'sub'], ['=\u00a0\u00a0' + emTop, '']], { size: 19, weight: 'bold', family: SERIF, anchor: 'middle' });
txt(svg, 557, 333, titleBottom, { size: 19, weight: 'bold', family: SERIF, anchor: 'middle' });
txt(svg, 559, 356, [['λ', ''], ['em', 'sub'], ['=\u00a0\u00a0' + emBottom, '']], { size: 19, weight: 'bold', family: SERIF, anchor: 'middle' });

// energy-level arrows
function arrow(x, yFrom, yTo) {
  const dir = Math.sign(yTo - yFrom);
  const L = 12, W = 5.5, N = 3;
  svg.append('line').attr('x1', x).attr('x2', x).attr('y1', yFrom).attr('y2', yTo - dir * (L - N))
    .attr('stroke', BLUE).attr('stroke-width', 3);
  svg.append('path').attr('d', `M${x},${yTo} L${x - W},${yTo - dir * L} L${x},${yTo - dir * (L - N)} L${x + W},${yTo - dir * L} Z`)
    .attr('fill', BLUE);
}
arrow(1115, 263, 114); arrow(1127, 263, 177); arrow(1173, 122, 264);
txt(svg, 1103, 109, [[arrowsTop[0], '']], { size: 13, family: SERIF });
txt(svg, 1124, 176, [[arrowsTop[1], '']], { size: 13, family: SERIF });
txt(svg, 1177, 208, [[arrowsTop[2], '']], { size: 13, family: SERIF });
arrow(1122, 567, 382); arrow(1147, 566, 509); arrow(1176, 427, 569);
txt(svg, 1126, 378, [[arrowsBottom[0], '']], { size: 13, family: SERIF });
txt(svg, 1127, 505, [[arrowsBottom[1], '']], { size: 13, family: SERIF });
txt(svg, 1182, 486, [[arrowsBottom[2], '']], { size: 13, family: SERIF });
</script>
</body></html>
